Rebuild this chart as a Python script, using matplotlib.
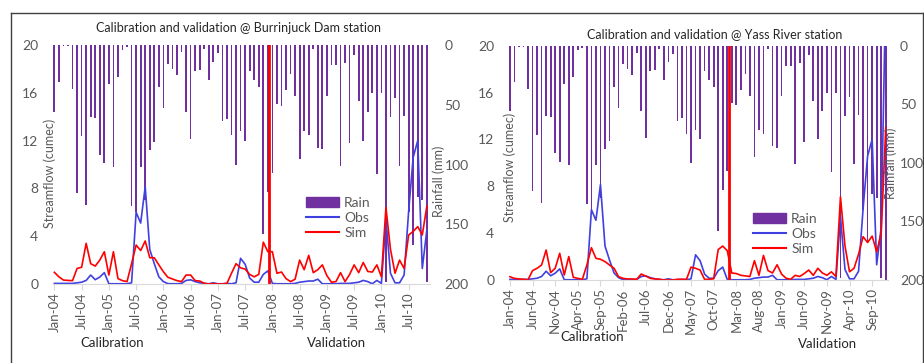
import matplotlib
matplotlib.use("Agg")
import matplotlib.pyplot as plt
import pandas as pd
from matplotlib.patches import Patch
from matplotlib.lines import Line2D

plt.rcParams['font.family'] = ['Lato', 'DejaVu Sans']

# monthly categories, Jan-04 .. Dec-10
months = pd.date_range('2004-01-01', periods=84, freq='MS').strftime('%b-%y').tolist()

# rainfall (mm), Jan-04 .. Nov-10
rain = [56, 31, 1, 1, 37, 124, 76, 134, 60, 61,
        92, 99, 33, 102, 27, 4, 2, 135, 140, 102,
        130, 88, 81, 35, 53, 16, 20, 25, 6, 56,
        79, 22, 21, 3, 29, 14, 7, 64, 62, 75,
        100, 72, 80, 22, 29, 35, 158, 123, 107, 49,
        51, 38, 24, 43, 95, 72, 75, 3, 86, 87,
        43, 17, 17, 101, 15, 82, 8, 47, 80, 56,
        40, 108, 40, 198, 60, 44, 101, 59, 140, 167,
        127, 130, 198]
rain_yass = rain + [210]

# observed streamflow (cumec)
obs = [0.05, 0.05, 0.05, 0.05, 0.05, 0.1, 0.15, 0.3, 0.75, 0.36,
       0.58, 0.95, 0.02, 0.02, 0.02, 0.02, 0.02, 0.1, 6.0, 5.1,
       8.15, 2.9, 1.7, 0.6, 0.2, 0.03, 0.02, 0.02, 0.05, 0.3,
       0.35, 0.2, 0.1, 0.05, 0.02, 0.1, 0.02, 0.02, 0.05, 0.02,
       0.1, 2.15, 1.65, 0.5, 0.15, 0.15, 0.8, 1.1, 0.05, 0.02,
       0.02, 0.02, 0.02, 0.05, 0.15, 0.2, 0.25, 0.25, 0.4, 0.02,
       0.02, 0.02, 0.02, 0.05, 0.05, 0.05, 0.1, 0.15, 0.3, 0.2,
       0.02, 0.3, 0.05, 5.4, 0.9, 0.1, 0.1, 0.75, 6.1, 10.6,
       12.0, 1.3, 4.5]
obs_yass = obs + [25]

# simulated streamflow (cumec)
sim_burrinjuck = [0.98, 0.6, 0.33, 0.3, 0.28, 1.3, 1.4, 3.4, 1.7, 1.5,
                  2.0, 2.7, 0.75, 2.7, 0.45, 0.28, 0.2, 1.7, 3.26, 2.8,
                  3.6, 2.2, 2.2, 1.6, 1.03, 0.56, 0.42, 0.28, 0.2, 0.75,
                  0.75, 0.28, 0.25, 0.06, 0.0, 0.03, 0.0, 0.0, 0.06, 0.9,
                  1.7, 1.35, 1.25, 0.8, 0.6, 0.8, 3.5, 2.7, 2.7, 0.9,
                  1.0, 0.45, 0.2, 0.4, 2.0, 1.2, 2.4, 0.95, 1.2, 1.6,
                  0.7, 0.15, 0.2, 0.95, 0.2, 0.8, 1.6, 0.95, 1.8, 1.05,
                  1.0, 1.6, 0.6, 6.4, 2.9, 0.9, 2.0, 1.3, 4.1, 4.4,
                  4.8, 4.1, 6.5]
sim_yass = [0.28, 0.14, 0.09, 0.06, 0.02, 0.8, 1.0, 1.28, 2.56, 0.63,
            1.0, 2.28, 0.43, 2.0, 0.23, 0.14, 0.06, 1.28, 2.76, 1.85,
            1.77, 1.57, 1.28, 1.0, 0.28, 0.14, 0.09, 0.09, 0.06, 0.51,
            0.34, 0.14, 0.09, 0.06, 0.0, 0.0, 0.0, 0.06, 0.06, 0.06,
            1.1, 1.0, 0.85, 0.05, 0.06, 0.1, 2.6, 2.9, 2.5, 0.6,
            0.55, 0.4, 0.35, 0.3, 1.65, 0.4, 2.1, 0.8, 0.6, 1.3,
            0.5, 0.15, 0.06, 0.4, 0.3, 0.55, 0.85, 0.4, 1.0, 0.6,
            0.4, 0.7, 0.3, 7.1, 2.9, 0.7, 1.0, 2.2, 3.7, 3.2,
            3.75, 2.4, 4.0, 13.0]

RAIN_C = '#7030A0'
OBS_C = '#4040E0'
SIM_C = '#FF0000'
GREY = '#595959'
W, H = 924, 363

fig = plt.figure(figsize=(W / 100, H / 100), dpi=100)


def px_axes(x0, y0, x1, y1):
    return fig.add_axes([x0 / W, 1 - y1 / H, (x1 - x0) / W, (y1 - y0) / H])


def draw_panel(box, xlim, n, r, o, s, step, split, legend_xy, rpad):
    ax = px_axes(*box)
    ax2 = ax.twinx()
    x = list(range(n))
    ax2.bar(x, r[:n], width=0.38, color=RAIN_C, linewidth=0)
    ax2.set_ylim(200, 0)
    ax2.set_yticks([0, 50, 100, 150, 200])
    ax.plot(x, o[:n], color=OBS_C, lw=1.2)
    ax.plot(x, s[:n], color=SIM_C, lw=1.2)
    ax.axvline(split, color=SIM_C, lw=2.0)
    ax.set_ylim(0, 20)
    ax.set_yticks([0, 4, 8, 12, 16, 20])
    ax.set_xlim(*xlim)
    ticks = list(range(0, n, step))
    ax.set_xticks(ticks)
    ax.set_xticklabels([months[i] for i in ticks], rotation=90)
    ax.set_zorder(ax2.get_zorder() + 1)
    ax.patch.set_visible(False)
    for a in (ax, ax2):
        for sp in a.spines.values():
            sp.set_visible(False)
        a.tick_params(axis='y', length=0, pad=10.5, labelsize=10, labelcolor=GREY)
    ax2.tick_params(axis='y', pad=rpad)
    ax.spines['bottom'].set_visible(True)
    ax.spines['bottom'].set_color('#D9D9D9')
    ax.tick_params(axis='x', length=4, color='#D9D9D9', labelsize=9.5,
                   labelcolor=GREY, pad=2)
    handles = [Patch(color=RAIN_C), Line2D([], [], color=OBS_C, lw=1.5),
               Line2D([], [], color=SIM_C, lw=1.5)]
    leg = ax2.legend(handles, ['Rain', 'Obs', 'Sim'], loc='upper left',
                     bbox_to_anchor=(legend_xy[0] / W, 1 - legend_xy[1] / H),
                     bbox_transform=fig.transFigure, frameon=False,
                     fontsize=10, labelspacing=0.2, handlelength=2.4,
                     handletextpad=0.35, borderpad=0, borderaxespad=0)
    for t in leg.get_texts():
        t.set_color(GREY)
    return ax


draw_panel((53, 45, 430, 284), (-0.3, 82.7), 83, rain, obs, sim_burrinjuck,
           6, 47.2, (306, 197), 10.5)
draw_panel((509, 45.7, 888, 280), (-0.2, 83.5), 84, rain_yass, obs_yass,
           sim_yass, 5, 48.3, (753, 213), 8.5)

# titles and axis names
fig.text(239 / W, 1 - 28 / H, 'Calibration and validation @ Burrinjuck Dam station',
         ha='center', va='center', fontsize=9, color='#262626')
fig.text(715 / W, 1 - 34 / H, 'Calibration and validation @ Yass River station',
         ha='center', va='center', fontsize=9, color='#262626')
for xp, yp, txt in [(50, 173, 'Streamflow (cumec)'), (439, 181, 'Rainfall (mm)'),
                    (510, 167, 'Streamflow (cumec)'), (891, 163, 'Rainfall (mm)')]:
    fig.text(xp / W, 1 - yp / H, txt, rotation=90, ha='center', va='center',
             fontsize=9, color=GREY)
for xp, yp, txt in [(112, 343, 'Calibration'), (337, 343, 'Validation'),
                    (592, 337, 'Calibration'), (828, 344, 'Validation')]:
    fig.text(xp / W, 1 - yp / H, txt, ha='center', va='center',
             fontsize=9.5, color='#262626')

# chart frame
frame = dict(transform=fig.transFigure, color='#404040', lw=1.0)
fig.add_artist(Line2D([11 / W, 11 / W], [0, 1 - 13 / H], **frame))
fig.add_artist(Line2D([11 / W, 1], [1 - 13 / H, 1 - 13 / H], **frame))
fig.add_artist(Line2D([922.5 / W, 922.5 / W], [0, 1 - 13 / H], **frame))

fig.savefig('out.png', dpi=100)
